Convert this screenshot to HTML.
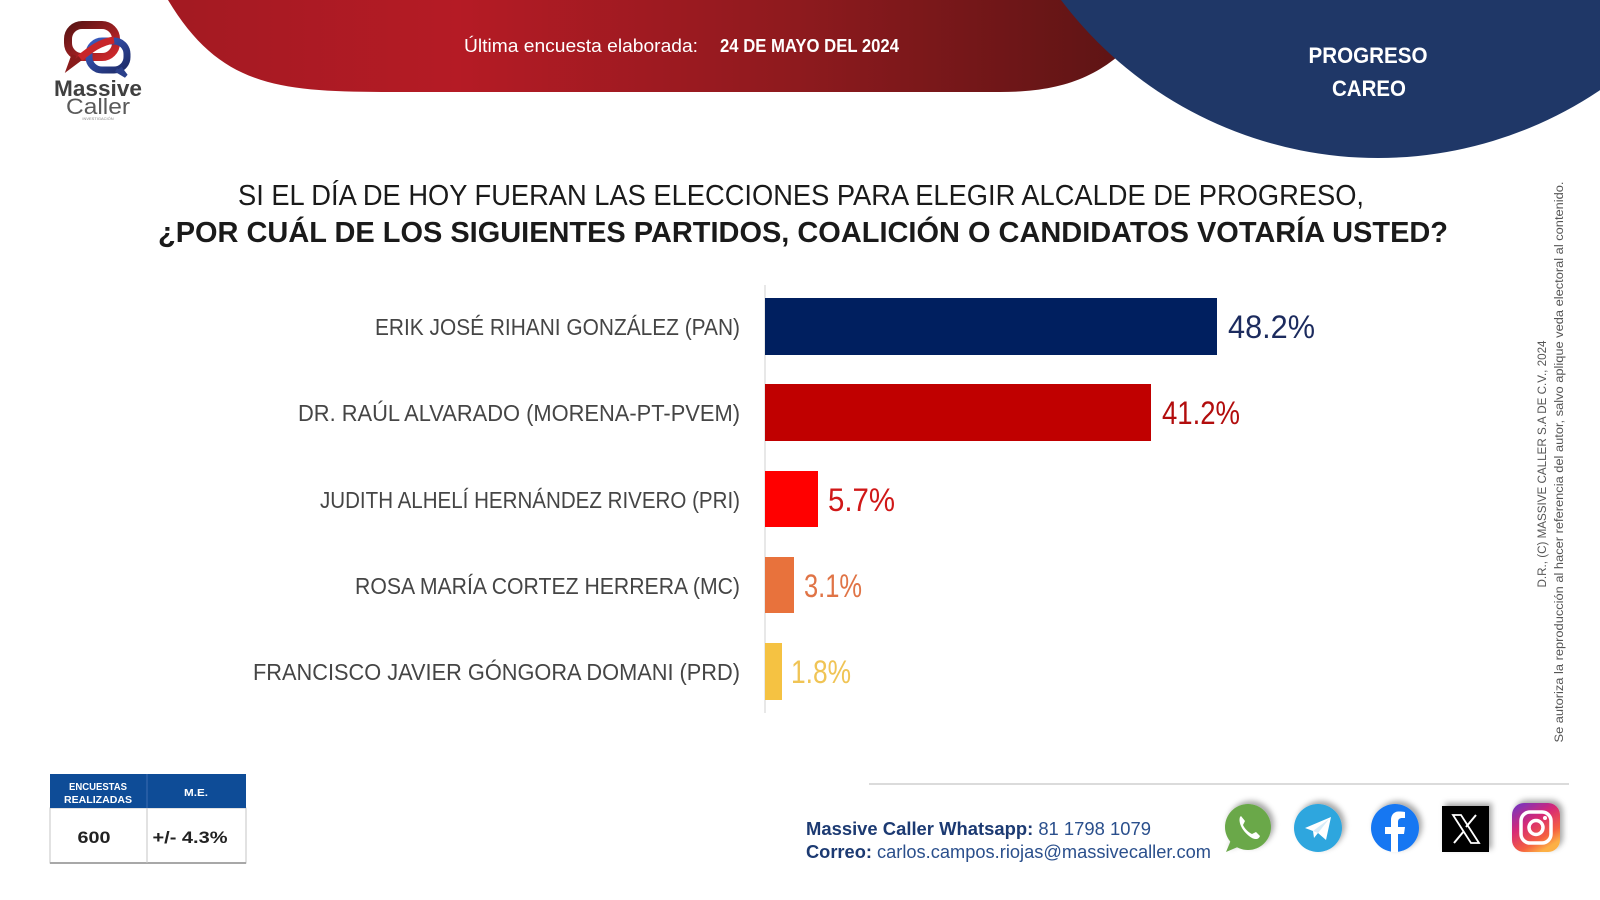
<!DOCTYPE html>
<html>
<head>
<meta charset="utf-8">
<style>
html,body{margin:0;padding:0;background:#fff;}
body{width:1600px;height:900px;overflow:hidden;}
svg{display:block;}
text{font-family:"Liberation Sans","DejaVu Sans",sans-serif;}
</style>
</head>
<body>
<svg width="1600" height="900" viewBox="0 0 1600 900" xmlns="http://www.w3.org/2000/svg">
  <defs>
    <linearGradient id="redg" x1="0" y1="0" x2="1" y2="0">
      <stop offset="0" stop-color="#a31a22"/>
      <stop offset="0.3" stop-color="#b51b25"/>
      <stop offset="0.65" stop-color="#8e1a1e"/>
      <stop offset="1" stop-color="#5c1414"/>
    </linearGradient>
    <linearGradient id="logor" x1="0" y1="0" x2="1" y2="1">
      <stop offset="0" stop-color="#5a1414"/>
      <stop offset="1" stop-color="#d0282c"/>
    </linearGradient>
    <linearGradient id="logob" x1="0" y1="0" x2="1" y2="1">
      <stop offset="0" stop-color="#3b5cc0"/>
      <stop offset="1" stop-color="#1d2a66"/>
    </linearGradient>
    <linearGradient id="ig" x1="0" y1="0" x2="0.6" y2="1">
      <stop offset="0" stop-color="#6a35c9"/>
      <stop offset="0.45" stop-color="#d62976"/>
      <stop offset="0.8" stop-color="#f56040"/>
      <stop offset="1" stop-color="#fcb045"/>
    </linearGradient>
    <filter id="sh" x="-40%" y="-40%" width="180%" height="180%">
      <feDropShadow dx="3" dy="-3" stdDeviation="3" flood-color="#000" flood-opacity="0.35"/>
    </filter>
  </defs>

  <!-- Header red band -->
  <path d="M168,0 C225,95 290,92 420,92 L1000,92 C1060,92 1100,78 1135,40 L1135,0 Z" fill="url(#redg)"/>
  <!-- Blue circle -->
  <circle cx="1378" cy="-239" r="397" fill="#1f3767"/>

  <text x="464" y="52" font-size="18" fill="#ffffff" textLength="234" lengthAdjust="spacingAndGlyphs">Última encuesta elaborada:</text>
  <text x="720" y="52" font-size="18" font-weight="bold" fill="#ffffff" textLength="179" lengthAdjust="spacingAndGlyphs">24 DE MAYO DEL 2024</text>

  <text x="1368" y="63" font-size="22" font-weight="bold" fill="#ffffff" text-anchor="middle" textLength="119" lengthAdjust="spacingAndGlyphs">PROGRESO</text>
  <text x="1369" y="96" font-size="22" font-weight="bold" fill="#ffffff" text-anchor="middle" textLength="74" lengthAdjust="spacingAndGlyphs">CAREO</text>

  <!-- Logo -->
  <rect x="68" y="25" width="48" height="32" rx="14" fill="none" stroke="url(#logor)" stroke-width="8"/>
  <path d="M74,55 L70,66 L82,57" fill="none" stroke="#8a1c1c" stroke-width="5"/>
  <rect x="89" y="41" width="38" height="29" rx="13" fill="none" stroke="url(#logob)" stroke-width="7"/>
  <path d="M120,68 L126,76 L116,70" fill="none" stroke="#2a3f8a" stroke-width="4"/>
  <path d="M80,58 C90,50 100,42 114,40" fill="none" stroke="#c8262a" stroke-width="7"/>
  <text x="98" y="96" font-size="22" font-weight="bold" fill="#404040" text-anchor="middle" textLength="88" lengthAdjust="spacingAndGlyphs">Massive</text>
  <text x="98" y="114" font-size="22" fill="#5a5a5a" text-anchor="middle" textLength="64" lengthAdjust="spacingAndGlyphs">Caller</text>
  <text x="98" y="120" font-size="4" fill="#888" text-anchor="middle">INVESTIGACIÓN</text>

  <!-- Title -->
  <text x="238" y="205" font-size="29" fill="#1a1a1a" textLength="1126" lengthAdjust="spacingAndGlyphs">SI EL DÍA DE HOY FUERAN LAS ELECCIONES PARA ELEGIR ALCALDE DE PROGRESO,</text>
  <text x="158" y="242" font-size="29" font-weight="bold" fill="#1a1a1a" textLength="1290" lengthAdjust="spacingAndGlyphs">¿POR CUÁL DE LOS SIGUIENTES PARTIDOS, COALICIÓN O CANDIDATOS VOTARÍA USTED?</text>

  <!-- Axis -->
  <line x1="765" y1="285" x2="765" y2="713" stroke="#d9d9d9" stroke-width="1.2"/>

  <!-- Bars -->
  <rect x="765" y="298" width="452" height="57" fill="#001f5f"/>
  <rect x="765" y="384" width="386" height="57" fill="#c00000"/>
  <rect x="765" y="471" width="53" height="56" fill="#ff0000"/>
  <rect x="765" y="557" width="29" height="56" fill="#e8723c"/>
  <rect x="765" y="643" width="17" height="57" fill="#f5c242"/>

  <!-- Category labels -->
  <g font-size="23" fill="#454545" text-anchor="end">
    <text x="740" y="335" textLength="365" lengthAdjust="spacingAndGlyphs">ERIK JOSÉ RIHANI GONZÁLEZ (PAN)</text>
    <text x="740" y="421" textLength="442" lengthAdjust="spacingAndGlyphs">DR. RAÚL ALVARADO (MORENA-PT-PVEM)</text>
    <text x="740" y="508" textLength="420" lengthAdjust="spacingAndGlyphs">JUDITH ALHELÍ HERNÁNDEZ RIVERO (PRI)</text>
    <text x="740" y="594" textLength="385" lengthAdjust="spacingAndGlyphs">ROSA MARÍA CORTEZ HERRERA (MC)</text>
    <text x="740" y="680" textLength="487" lengthAdjust="spacingAndGlyphs">FRANCISCO JAVIER GÓNGORA DOMANI (PRD)</text>
  </g>

  <!-- Value labels -->
  <g font-size="32">
    <text x="1228" y="338" fill="#1c2b5e" textLength="87" lengthAdjust="spacingAndGlyphs">48.2%</text>
    <text x="1162" y="424" fill="#b20d0d" textLength="78" lengthAdjust="spacingAndGlyphs">41.2%</text>
    <text x="828" y="511" fill="#d01818" textLength="67" lengthAdjust="spacingAndGlyphs">5.7%</text>
    <text x="804" y="597" fill="#e07446" textLength="58" lengthAdjust="spacingAndGlyphs">3.1%</text>
    <text x="791" y="683" fill="#f0c455" textLength="60" lengthAdjust="spacingAndGlyphs">1.8%</text>
  </g>

  <!-- Vertical disclaimer -->
  <text transform="translate(1546,464) rotate(-90)" font-size="11.5" fill="#555" text-anchor="middle" textLength="247" lengthAdjust="spacingAndGlyphs">D.R., (C) MASSIVE CALLER S.A DE C.V., 2024</text>
  <text transform="translate(1563,462) rotate(-90)" font-size="11.5" fill="#555" text-anchor="middle" textLength="561" lengthAdjust="spacingAndGlyphs">Se autoriza la reproducción al hacer referencia del autor, salvo aplique veda electoral al contenido.</text>

  <!-- Table -->
  <rect x="50" y="808" width="196" height="55" fill="#fff" stroke="#c4c4c4" stroke-width="1"/>
  <line x1="50" y1="863" x2="246" y2="863" stroke="#a8a8a8" stroke-width="2"/>
  <rect x="50" y="774" width="196" height="34" fill="#0e4c97"/>
  <line x1="147" y1="774" x2="147" y2="808" stroke="#3c6db0" stroke-width="1"/>
  <line x1="147" y1="808" x2="147" y2="863" stroke="#c4c4c4" stroke-width="1"/>
  <g font-size="10.5" font-weight="bold" fill="#ffffff" text-anchor="middle">
    <text x="98" y="790" textLength="58" lengthAdjust="spacingAndGlyphs">ENCUESTAS</text>
    <text x="98" y="803" textLength="68" lengthAdjust="spacingAndGlyphs">REALIZADAS</text>
    <text x="196" y="796" textLength="24" lengthAdjust="spacingAndGlyphs">M.E.</text>
  </g>
  <text x="94" y="843" font-size="17" font-weight="bold" fill="#222" text-anchor="middle" textLength="33" lengthAdjust="spacingAndGlyphs">600</text>
  <text x="190" y="843" font-size="17" font-weight="bold" fill="#222" text-anchor="middle" textLength="75" lengthAdjust="spacingAndGlyphs">+/- 4.3%</text>

  <!-- Footer line -->
  <line x1="869" y1="784" x2="1569" y2="784" stroke="#cfcfcf" stroke-width="1.5"/>

  <!-- Footer text -->
  <text x="806" y="835" font-size="18" fill="#2a4f8c" textLength="345" lengthAdjust="spacingAndGlyphs"><tspan font-weight="bold" fill="#1c3a72">Massive Caller Whatsapp:</tspan> 81 1798 1079</text>
  <text x="806" y="858" font-size="18" fill="#2a4f8c" textLength="405" lengthAdjust="spacingAndGlyphs"><tspan font-weight="bold" fill="#1c3a72">Correo:</tspan> carlos.campos.riojas@massivecaller.com</text>

  <!-- Icons -->
  <g filter="url(#sh)">
    <circle cx="1248" cy="827" r="23" fill="#6aa84a"/>
    <path d="M1231,840 L1226,852 L1240,846 Z" fill="#6aa84a"/>
  </g>
  <path d="M1240,817 C1238,822 1242,832 1252,838 C1256,840 1259,839 1260,836 L1256,832 L1252,834 C1248,832 1245,829 1243,825 L1245,821 L1241,816 Z" fill="#fff"/>

  <g filter="url(#sh)"><circle cx="1318" cy="828" r="24" fill="#2ea6de"/></g>
  <path d="M1305,828 L1331,817 L1326,840 L1318,833 L1314,838 L1313,831 Z" fill="#ffffff"/>
  <path d="M1313,831 L1329,819 L1318,833" fill="#d6ecf8"/>

  <g filter="url(#sh)"><circle cx="1395" cy="828" r="24" fill="#1877f2"/></g>
  <path d="M1398,852 L1398,834 L1404,834 L1405,827 L1398,827 L1398,822 C1398,819 1400,818 1402,818 L1405,818 L1405,812 C1403,811.5 1401,811.5 1399,811.5 C1394,811.5 1391,815 1391,820 L1391,827 L1385,827 L1385,834 L1391,834 L1391,852 Z" fill="#ffffff"/>

  <g filter="url(#sh)"><rect x="1442" y="806" width="47" height="46" fill="#000"/></g>
  <path d="M1453,815 L1461,815 L1479,843 L1471,843 Z" fill="none" stroke="#fff" stroke-width="1.8"/>
  <line x1="1476" y1="815" x2="1466" y2="827" stroke="#fff" stroke-width="2"/>
  <line x1="1464" y1="831" x2="1454" y2="843" stroke="#fff" stroke-width="2"/>

  <g filter="url(#sh)"><rect x="1512" y="803" width="48" height="49" rx="12" fill="url(#ig)"/></g>
  <rect x="1521" y="812" width="30" height="31" rx="9" fill="none" stroke="#fff" stroke-width="3.5"/>
  <circle cx="1536" cy="827.5" r="7" fill="none" stroke="#fff" stroke-width="3.5"/>
  <circle cx="1545" cy="818" r="2" fill="#fff"/>
</svg>
</body>
</html>
